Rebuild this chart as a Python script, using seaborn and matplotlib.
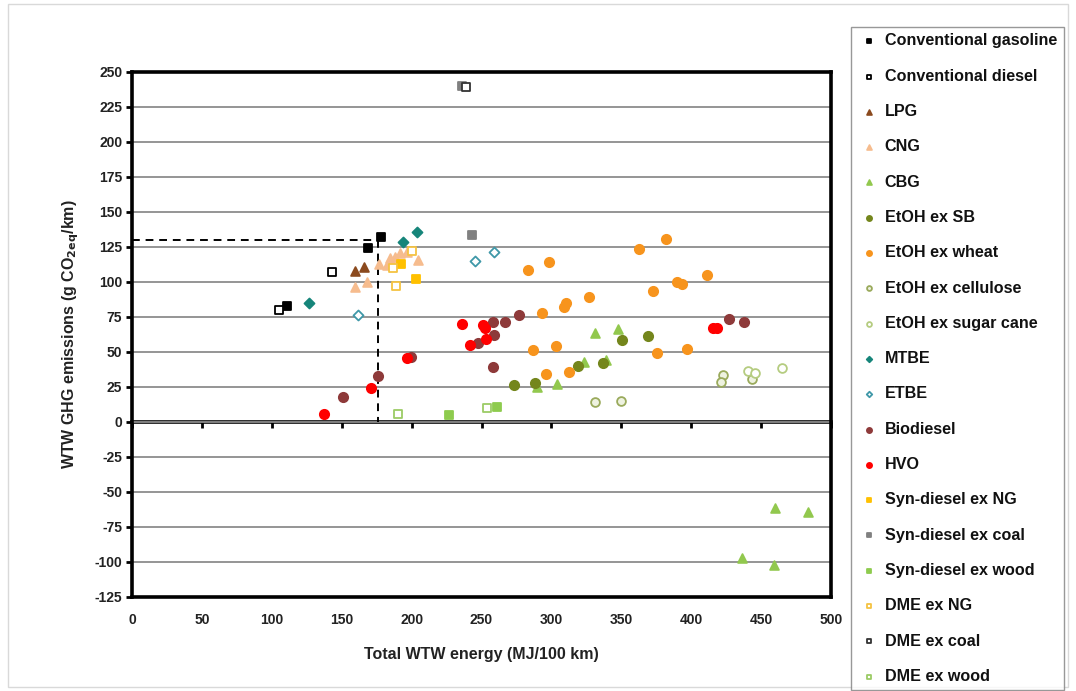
import matplotlib
matplotlib.use("Agg")
import matplotlib.pyplot as plt
import seaborn as sns
import pandas as pd

sns.set_theme(style="white")
plt.rcParams['font.family'] = ['Liberation Sans', 'DejaVu Sans']
plt.rcParams['font.weight'] = 'bold'

# ---------------- data ----------------
series_names = [
    "Conventional gasoline", "Conventional diesel", "LPG", "CNG", "CBG",
    "EtOH ex SB", "EtOH ex wheat", "EtOH ex cellulose", "EtOH ex sugar cane",
    "MTBE", "ETBE", "Biodiesel", "HVO", "Syn-diesel ex NG", "Syn-diesel ex coal",
    "Syn-diesel ex wood", "DME ex NG", "DME ex coal", "DME ex wood",
]

gasoline_x = [110.7, 169.0, 177.9]
gasoline_y = [82.6, 124.3, 132.1]
diesel_x = [105.2, 143.3]
diesel_y = [79.8, 106.7]
lpg_x = [159.5, 166.0]
lpg_y = [107.6, 110.7]
cng_x = [159.5, 167.9, 176.9, 182.2, 184.5, 188.1, 191.7, 196.5, 204.8]
cng_y = [96.0, 99.6, 112.4, 111.9, 116.7, 117.9, 120.7, 121.4, 115.5]
cbg_x = [331.2, 347.9, 323.0, 339.0, 289.5, 304.3, 459.9, 483.3, 436.6, 459.4]
cbg_y = [63.1, 66.0, 42.9, 44.1, 24.6, 26.7, -61.4, -64.4, -97.1, -102.4]
sb_x = [273.5, 288.5, 318.8, 336.6, 350.4, 368.9]
sb_y = [26.0, 27.9, 39.6, 41.9, 58.4, 61.4]
wheat_x = [362.4, 283.0, 298.1, 372.9, 326.9, 310.2, 309.2, 293.5, 287.0,
           303.1, 375.3, 296.1, 312.4, 382.0, 411.1, 389.6, 393.2, 396.8]
wheat_y = [123.4, 108.4, 114.3, 93.4, 89.3, 85.0, 82.2, 77.9, 51.2,
           54.3, 48.9, 33.9, 35.5, 130.3, 105.0, 100.0, 98.4, 51.7]
cellulose_x = [331.2, 349.6, 422.5, 421.1, 443.7]
cellulose_y = [14.3, 15.0, 33.4, 28.4, 30.5]
sugarcane_x = [440.9, 445.6, 464.7]
sugarcane_y = [36.4, 35.0, 38.1]
mtbe_x = [126.8, 193.6, 204.1]
mtbe_y = [85.0, 128.1, 135.3]
etbe_x = [161.4, 245.4, 258.9]
etbe_y = [76.2, 114.8, 121.0]
biodiesel_x = [151.1, 175.8, 199.6, 247.3, 258.4, 259.2, 258.0, 267.0, 276.8, 426.8, 438.0]
biodiesel_y = [17.9, 32.6, 46.2, 56.0, 71.0, 61.9, 38.9, 71.0, 76.0, 73.6, 71.4]
hvo_x = [137.3, 171.0, 196.9, 236.3, 241.8, 251.3, 252.5, 253.2, 415.8, 418.7]
hvo_y = [5.3, 24.3, 45.3, 69.6, 54.8, 69.1, 66.7, 58.9, 67.1, 67.1]
syn_ng_x = [192.4, 203.1]
syn_ng_y = [112.6, 101.9]
syn_coal_x = [235.8, 243.2]
syn_coal_y = [239.8, 133.4]
syn_wood_x = [226.8, 260.9]
syn_wood_y = [4.8, 10.3]
dme_ng_x = [188.8, 187.0, 200.1]
dme_ng_y = [97.1, 109.6, 121.9]
dme_coal_x = [238.7]
dme_coal_y = [239.3]
dme_wood_x = [190.1, 253.7]
dme_wood_y = [5.3, 9.6]

ref_x = 176
ref_y = 130

x_ticks = list(range(0, 501, 50))
y_ticks = list(range(-125, 251, 25))

# ---------------- styles ----------------
xs = [gasoline_x, diesel_x, lpg_x, cng_x, cbg_x, sb_x, wheat_x, cellulose_x,
      sugarcane_x, mtbe_x, etbe_x, biodiesel_x, hvo_x, syn_ng_x, syn_coal_x,
      syn_wood_x, dme_ng_x, dme_coal_x, dme_wood_x]
ys = [gasoline_y, diesel_y, lpg_y, cng_y, cbg_y, sb_y, wheat_y, cellulose_y,
      sugarcane_y, mtbe_y, etbe_y, biodiesel_y, hvo_y, syn_ng_y, syn_coal_y,
      syn_wood_y, dme_ng_y, dme_coal_y, dme_wood_y]
styles = [
    ("s", "black", "black", 36),
    ("s", "white", "black", 36),
    ("^", "#8B4A1E", "#8B4A1E", 40),
    ("^", "#F6BC8E", "#F6BC8E", 40),
    ("^", "#92C84E", "#92C84E", 40),
    ("o", "#74861C", "#74861C", 45),
    ("o", "#F7941D", "#F7941D", 45),
    ("o", "#EEF2E0", "#9AAA5C", 40),
    ("o", "white", "#B5CC80", 40),
    ("D", "#16857A", "#16857A", 26),
    ("D", "white", "#3F98A8", 26),
    ("o", "#8E3A3A", "#8E3A3A", 45),
    ("o", "#FF0000", "#FF0000", 45),
    ("s", "#FFC000", "#FFC000", 40),
    ("s", "#808080", "#808080", 36),
    ("s", "#8ECB4E", "#8ECB4E", 36),
    ("s", "white", "#F5C342", 36),
    ("s", "white", "#333333", 36),
    ("s", "white", "#9CCC66", 36),
]

# ---------------- figure ----------------
fig = plt.figure(figsize=(10.76, 6.91), dpi=100)
ax = fig.add_axes([0.1227, 0.1365, 0.6496, 0.7597])

for name, x, y, (m, fc, ec, s) in zip(series_names, xs, ys, styles):
    df = pd.DataFrame({"x": x, "y": y})
    sns.scatterplot(data=df, x="x", y="y", marker=m, color=fc, edgecolor=ec,
                    linewidth=1.3, s=s, ax=ax, label=name, zorder=5)

# reference dashed lines
ax.plot([0, ref_x], [ref_y, ref_y], ls=(0, (4, 3)), color="black", lw=1.4, zorder=4)
ax.plot([ref_x, ref_x], [ref_y, 0], ls=(0, (4, 3)), color="black", lw=1.4, zorder=4)

ax.set_xlim(0, 500)
ax.set_ylim(-125, 250)
ax.set_xticks(x_ticks)
ax.set_yticks(y_ticks)
ax.set_xticklabels([str(v) for v in x_ticks], fontsize=10, fontweight="bold")
ax.set_yticklabels([str(v) for v in y_ticks], fontsize=10, fontweight="bold")
ax.tick_params(axis="x", length=0, pad=12, colors="#222222")
ax.tick_params(axis="y", length=4, width=2, direction="out", pad=3, colors="black",
               labelcolor="#222222", left=True)
ax.yaxis.grid(True, color="#8C8C8C", lw=1.3, zorder=0)
ax.xaxis.grid(False)
for sp in ax.spines.values():
    sp.set_linewidth(2.6)
    sp.set_color("black")

# zero axis with tick marks
sec = ax.secondary_xaxis(125 / 375)
sec.set_xticks(x_ticks)
sec.tick_params(axis="x", labelbottom=False, direction="out", length=4, width=2, colors="black")
sec.spines["bottom"].set_linewidth(2.6)
sec.spines["bottom"].set_color("black")

ax.set_xlabel("Total WTW energy (MJ/100 km)", fontsize=11.5, fontweight="bold",
              labelpad=14, color="#222222")
ax.set_ylabel(r"WTW GHG emissions (g CO$_{\mathbf{2eq}}$/km)", fontsize=11.5,
              fontweight="bold", labelpad=10, color="#222222")

handles, labels = ax.get_legend_handles_labels()
ax.legend_.remove()
leg = fig.legend(handles, labels, loc="upper left",
                 bbox_to_anchor=(851 / 1076, 1 - 27 / 691),
                 frameon=True, fancybox=False,
                 prop={"weight": "bold", "size": 11.6},
                 labelspacing=1.26, handletextpad=0.3, handlelength=1.4,
                 markerscale=0.55, borderpad=0.4, borderaxespad=0)
leg.get_frame().set_edgecolor("#7F7F7F")
leg.get_frame().set_linewidth(1.0)
for t in leg.get_texts():
    t.set_color("#111111")

# outer chart border
fig.add_artist(plt.Rectangle((8 / 1076, 4 / 691), 1 - 16 / 1076, 1 - 8 / 691,
                             transform=fig.transFigure, fill=False,
                             edgecolor="#D9D9D9", lw=1))

fig.savefig("out.png", dpi=100)
